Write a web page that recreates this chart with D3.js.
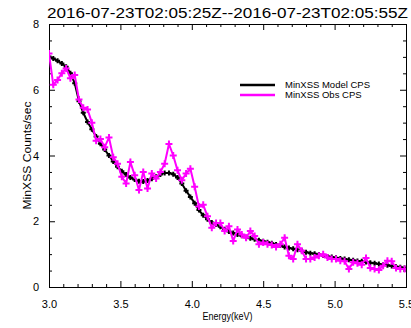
<!DOCTYPE html>
<html>
<head>
<meta charset="utf-8">
<script src="https://cdn.jsdelivr.net/npm/d3@7"></script>
<style>
  body { margin: 0; background: #fff; }
  text { font-family: "Liberation Sans", Arial, sans-serif; fill: #000; }
</style>
</head>
<body>
<svg id="chart" width="411" height="328"></svg>
<script>
// energy bins (keV)
const energy = [
  3.00, 3.03, 3.06, 3.09, 3.12, 3.15, 3.18, 3.21, 3.24, 3.27,
  3.30, 3.33, 3.36, 3.39, 3.42, 3.45, 3.48, 3.51, 3.54, 3.57,
  3.60, 3.63, 3.66, 3.69, 3.72, 3.75, 3.78, 3.81, 3.84, 3.87,
  3.90, 3.93, 3.96, 3.99, 4.02, 4.05, 4.08, 4.11, 4.14, 4.17,
  4.20, 4.23, 4.26, 4.29, 4.32, 4.35, 4.38, 4.41, 4.44, 4.47,
  4.50, 4.53, 4.56, 4.59, 4.62, 4.65, 4.68, 4.71, 4.74, 4.77,
  4.80, 4.83, 4.86, 4.89, 4.92, 4.95, 4.98, 5.01, 5.04, 5.07,
  5.10, 5.13, 5.16, 5.19, 5.22, 5.25, 5.28, 5.31, 5.34, 5.37,
  5.40, 5.43, 5.46, 5.49
];

// MinXSS model counts/sec
const modelCps = [
  7.01, 6.95, 6.88, 6.80, 6.70, 6.50, 6.20, 5.65, 5.30, 5.02,
  4.80, 4.58, 4.36, 4.18, 4.00, 3.82, 3.66, 3.52, 3.42, 3.33,
  3.27, 3.22, 3.21, 3.24, 3.29, 3.35, 3.42, 3.47, 3.47, 3.43,
  3.33, 3.15, 2.93, 2.74, 2.55, 2.34, 2.18, 2.06, 1.96, 1.90,
  1.83, 1.76, 1.69, 1.64, 1.60, 1.56, 1.51, 1.48, 1.45, 1.42,
  1.39, 1.36, 1.33, 1.29, 1.26, 1.22, 1.19, 1.16, 1.13, 1.10,
  1.06, 1.03, 1.01, 0.99, 0.96, 0.93, 0.91, 0.89, 0.87, 0.85,
  0.83, 0.81, 0.79, 0.78, 0.76, 0.74, 0.72, 0.70, 0.68, 0.66,
  0.64, 0.62, 0.60, 0.58
];

// MinXSS observed counts/sec
const obsCps = [
  7.10, 6.15, 6.30, 6.50, 6.65, 6.35, 6.45, 5.70, 5.45, 5.40,
  5.00, 4.45, 4.50, 4.25, 4.55, 3.95, 3.75, 3.35, 3.15, 3.80,
  3.40, 2.95, 3.50, 3.00, 3.45, 3.30, 3.50, 3.75, 4.35, 4.00,
  3.55, 3.25, 3.45, 3.60, 3.05, 2.45, 2.50, 2.15, 1.80, 1.95,
  1.95, 1.70, 1.85, 1.40, 1.75, 1.60, 1.50, 1.70, 1.55, 1.30,
  1.35, 1.30, 1.28, 1.22, 1.30, 1.50, 0.95, 0.85, 1.30, 1.10,
  0.85, 0.85, 0.90, 0.95, 1.00, 0.90, 0.85, 0.85, 0.80, 0.78,
  0.55, 0.75, 0.72, 0.68, 0.88, 0.58, 0.55, 0.52, 0.65, 0.80,
  0.78, 0.58, 0.55, 0.55
];

const xMajor = [3.0, 3.5, 4.0, 4.5, 5.0, 5.5];
const xMinor = [3.1, 3.2, 3.3, 3.4, 3.6, 3.7, 3.8, 3.9, 4.1, 4.2, 4.3, 4.4,
                4.6, 4.7, 4.8, 4.9, 5.1, 5.2, 5.3, 5.4];
const yMajor = [0, 2, 4, 6, 8];
const yMinor = [0.5, 1, 1.5, 2.5, 3, 3.5, 4.5, 5, 5.5, 6.5, 7, 7.5];

const title = '2016-07-23T02:05:25Z--2016-07-23T02:05:55Z';
const seriesNames = ['MinXSS Model CPS', 'MinXSS Obs CPS'];
const seriesColors = ['#000000', '#ff00ff'];

const margin = { top: 24, right: 5, bottom: 41, left: 49 };
const width = 411, height = 328;
const w = width - margin.left - margin.right;
const h = height - margin.top - margin.bottom;

const svg = d3.select('#chart');
const g = svg.append('g').attr('transform', `translate(${margin.left},${margin.top})`);

const x = d3.scaleLinear().domain([3.0, 5.5]).range([0, w]);
const y = d3.scaleLinear().domain([0, 8]).range([h, 0]);

// clip the curves to the plot box
svg.append('defs').append('clipPath').attr('id', 'clip')
  .append('rect').attr('width', w).attr('height', h);

// axes, IDL style: ticks inward on all four sides
const fmt = d3.format('.1f');
const styleAxis = sel => {
  sel.select('.domain').attr('stroke', '#000');
  sel.selectAll('.tick line').attr('stroke', '#000');
  sel.selectAll('text').style('font-size', '11px').attr('fill', '#000');
};

g.append('g').attr('transform', `translate(0,${h})`)
  .call(d3.axisBottom(x).tickValues(xMajor).tickSize(-6).tickPadding(13).tickFormat(fmt))
  .call(styleAxis);
g.append('g').attr('transform', `translate(0,${h})`)
  .call(d3.axisBottom(x).tickValues(xMinor).tickSize(-3).tickFormat(''))
  .call(styleAxis);
g.append('g')
  .call(d3.axisTop(x).tickValues(xMajor).tickSize(-6).tickFormat(''))
  .call(styleAxis);
g.append('g')
  .call(d3.axisTop(x).tickValues(xMinor).tickSize(-3).tickFormat(''))
  .call(styleAxis);

g.append('g')
  .call(d3.axisLeft(y).tickValues(yMajor).tickSize(-6).tickPadding(10).tickFormat(d3.format('d')))
  .call(styleAxis);
g.append('g')
  .call(d3.axisLeft(y).tickValues(yMinor).tickSize(-3).tickFormat(''))
  .call(styleAxis);
g.append('g').attr('transform', `translate(${w},0)`)
  .call(d3.axisRight(y).tickValues(yMajor).tickSize(-6).tickFormat(''))
  .call(styleAxis);
g.append('g').attr('transform', `translate(${w},0)`)
  .call(d3.axisRight(y).tickValues(yMinor).tickSize(-3).tickFormat(''))
  .call(styleAxis);

// curves
const plus = (px, py, s) => `M${px - s},${py}H${px + s}M${px},${py - s}V${py + s}`;
const line = d3.line().x(d => x(d[0])).y(d => y(d[1]));
const plot = g.append('g').attr('clip-path', 'url(#clip)');

[modelCps, obsCps].forEach((vals, i) => {
  const pts = energy.map((e, j) => [e, vals[j]]);
  plot.append('path')
    .datum(pts)
    .attr('d', line)
    .attr('fill', 'none')
    .attr('stroke', seriesColors[i])
    .attr('stroke-width', 2);
  plot.append('path')
    .attr('d', pts.map(p => plus(x(p[0]), y(p[1]), i === 0 ? 2.5 : 3.5)).join(''))
    .attr('fill', 'none')
    .attr('stroke', seriesColors[i])
    .attr('stroke-width', 2);
});

// legend
const legend = g.append('g').attr('transform', `translate(${240 - margin.left},${85 - margin.top})`);
seriesNames.forEach((name, i) => {
  legend.append('line')
    .attr('x1', 0).attr('x2', 35)
    .attr('y1', i * 10).attr('y2', i * 10)
    .attr('stroke', seriesColors[i])
    .attr('stroke-width', 2.5);
  legend.append('text')
    .attr('x', 45).attr('y', i * 10 + 3.3)
    .style('font-size', '9.5px')
    .text(name);
});

// title and axis labels
svg.append('text')
  .attr('x', 47).attr('y', 18)
  .attr('textLength', 361).attr('lengthAdjust', 'spacingAndGlyphs')
  .style('font-size', '14px')
  .text(title);

svg.append('text')
  .attr('x', margin.left + w / 2).attr('y', 320)
  .attr('text-anchor', 'middle')
  .attr('textLength', 50).attr('lengthAdjust', 'spacingAndGlyphs')
  .style('font-size', '11px')
  .text('Energy(keV)');

svg.append('text')
  .attr('transform', `translate(31,${margin.top + h / 2}) rotate(-90)`)
  .attr('text-anchor', 'middle')
  .attr('textLength', 108).attr('lengthAdjust', 'spacingAndGlyphs')
  .style('font-size', '11px')
  .text('MinXSS Counts/sec');
</script>
</body>
</html>
